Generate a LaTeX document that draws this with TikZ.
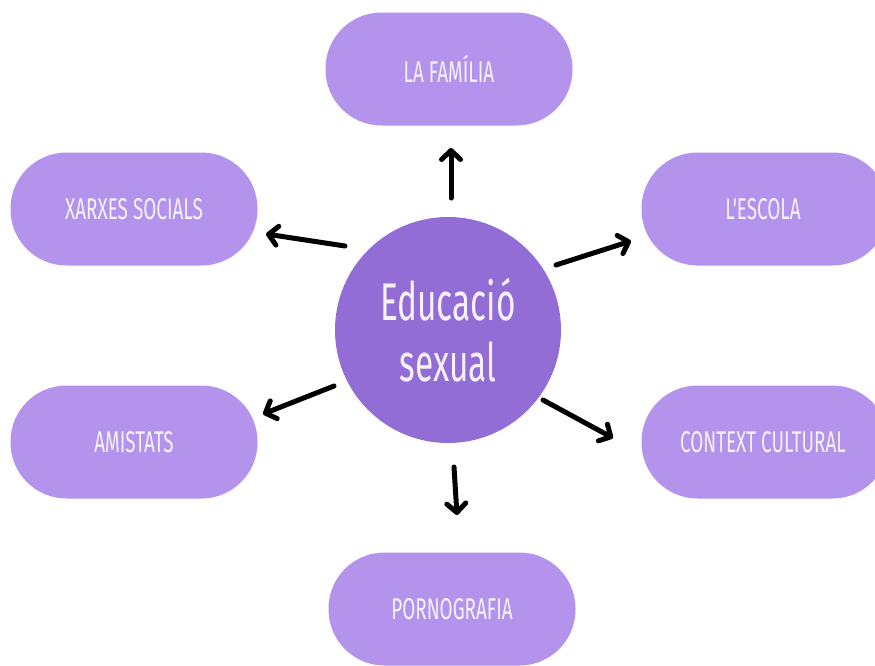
\documentclass[tikz,border=0pt]{standalone}
\usepackage{fontspec}
\newfontfamily\cond[FakeStretch=0.63]{Fira Sans}
\usetikzlibrary{arrows.meta}
\definecolor{pill}{HTML}{B393EB}
\definecolor{hub}{HTML}{936DD6}
\definecolor{txt}{HTML}{F6F1FC}
\tikzset{
  pillbox/.style={fill=pill, rounded corners=56pt, minimum width=247pt, minimum height=113pt,
    inner sep=0pt, text=txt, font=\cond\fontsize{30}{32}\selectfont},
  pilltext/.style={text=txt, font=\cond\fontsize{30}{32}\selectfont},
  hubnode/.style={circle, fill=hub, minimum size=226pt, inner sep=0pt, text=txt,
    align=center, font=\cond\fontsize{53}{61}\selectfont},
  arr/.style={line width=5pt, line cap=round, -{Straight Barb[round,length=9pt,width=19pt,line width=5pt]}}
}
\begin{document}
\begin{tikzpicture}[x=1pt,y=-1pt]
\useasboundingbox (0,0) rectangle (875,665);
\clip (0,0) rectangle (875,665);
\node[hubnode] (hub) at (448,330) {Educació\\sexual};
\node[pillbox] (fam) at (449,69) {LA FAMÍLIA};
\node[pillbox] (xar) at (134,209) {XARXES SOCIALS};
\node[pillbox] (esc) at (765,209) {};
\node[pilltext] (esct) at (763,209) {L'ESCOLA};
\node[pillbox] (ami) at (134,442) {AMISTATS};
\node[pillbox] (ctx) at (765,442) {};
\node[pilltext] (ctxt) at (763,442) {CONTEXT CULTURAL};
\node[pillbox] (por) at (452,609) {PORNOGRAFIA};
% arrow ends
\coordinate (s1) at (451,198); \coordinate (e1) at (451,148);
\coordinate (s2) at (345,246); \coordinate (e2) at (266,234);
\coordinate (s3) at (556,265); \coordinate (e3) at (631,241);
\coordinate (s4) at (334,386); \coordinate (e4) at (263,414);
\coordinate (s5) at (543,400); \coordinate (e5) at (613,438);
\coordinate (s6) at (454,467); \coordinate (e6) at (457,515);
\draw[arr] (s1) -- (e1);
\draw[arr] (s2) -- (e2);
\draw[arr] (s3) -- (e3);
\draw[arr] (s4) -- (e4);
\draw[arr] (s5) -- (e5);
\draw[arr] (s6) -- (e6);
\end{tikzpicture}
\end{document}
